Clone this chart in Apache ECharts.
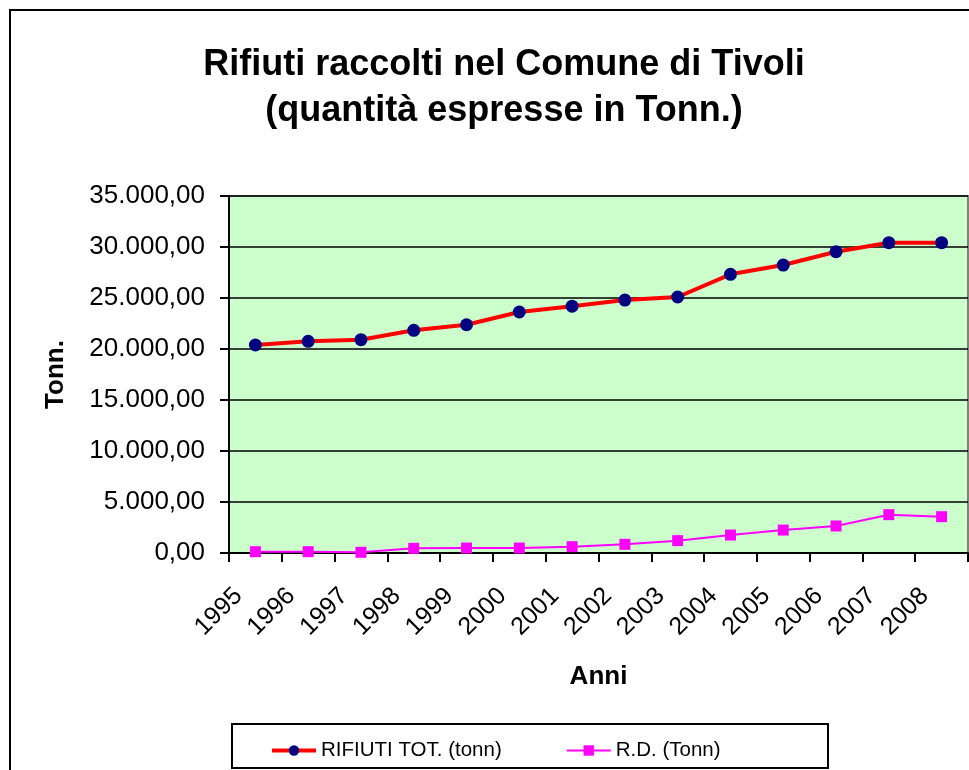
<!DOCTYPE html>
<html>
<head>
<meta charset="utf-8">
<script src="https://cdn.jsdelivr.net/npm/echarts@6/dist/echarts.min.js"></script>
<style>
  html, body { margin: 0; padding: 0; background: #fff; }
  #chart { width: 969px; height: 770px; }
</style>
</head>
<body>
<div id="chart"></div>
<script>
// anni e quantità (tonnellate)
const anni = ["1995", "1996", "1997", "1998", "1999", "2000", "2001",
  "2002", "2003", "2004", "2005", "2006", "2007", "2008"];
const rifiutiTot = [20390, 20750, 20910, 21830, 22380, 23630, 24200,
  24800, 25100, 27320, 28230, 29540, 30420, 30420];
const raccoltaDiff = [130, 130, 70, 460, 490, 490, 620,
  850, 1210, 1760, 2250, 2650, 3760, 3560];

const fmt = v => {
  const s = Math.round(v).toString().replace(/\B(?=(\d{3})+(?!\d))/g, ".");
  return s + ",00";
};

const chart = echarts.init(document.getElementById("chart"));
chart.setOption({
  animation: false,
  backgroundColor: "#ffffff",
  textStyle: { fontFamily: "Liberation Sans, Arial, sans-serif" },
  title: {
    text: "Rifiuti raccolti nel Comune di Tivoli\n(quantità espresse in Tonn.)",
    left: 499,
    textAlign: "center",
    top: 37,
    textStyle: { fontSize: 36, fontWeight: "bold", color: "#000", lineHeight: 46 }
  },
  graphic: [
    { type: "rect", shape: { x: 10, y: 10, width: 1000, height: 800 },
      style: { fill: null, stroke: "#000", lineWidth: 2 }, z: 100 },
    { type: "rect", shape: { x: 232, y: 724, width: 596, height: 44 },
      style: { fill: null, stroke: "#000", lineWidth: 2 }, z: 100 }
  ],
  legend: {
    left: 265,
    top: 735,
    itemWidth: 44,
    itemHeight: 13,
    itemGap: 64,
    textStyle: { fontSize: 20.5, color: "#000" },
    data: [
      { name: "RIFIUTI TOT. (tonn)", lineStyle: { width: 4 } },
      { name: "R.D. (Tonn)", lineStyle: { width: 2 } }
    ]
  },
  grid: {
    left: 229, right: 1, top: 196, bottom: 217,
    show: true, backgroundColor: "#CCFFCC",
    borderColor: "#808080", borderWidth: 2
  },
  xAxis: {
    type: "category",
    data: anni,
    boundaryGap: true,
    name: "Anni",
    nameLocation: "middle",
    nameGap: 111,
    nameTextStyle: { fontSize: 26, fontWeight: "bold", color: "#000" },
    axisLine: { lineStyle: { color: "#000", width: 2 } },
    axisTick: { show: true, length: 9, lineStyle: { color: "#000", width: 2 } },
    axisLabel: { rotate: 45, fontSize: 25, color: "#000", margin: 22,
      padding: [0, 24, 0, 0], interval: 0 }
  },
  yAxis: {
    type: "value",
    min: 0, max: 35000, interval: 5000,
    name: "Tonn.",
    nameLocation: "middle",
    nameGap: 160,
    nameTextStyle: { fontSize: 26, fontWeight: "bold", color: "#000" },
    axisLine: { show: true, lineStyle: { color: "#000", width: 2 } },
    axisTick: { show: true, length: 9, lineStyle: { color: "#000", width: 2 } },
    axisLabel: { fontSize: 26, color: "#000", margin: 24, formatter: fmt },
    splitLine: { lineStyle: { color: "#000", width: 1.5 } }
  },
  series: [
    {
      name: "RIFIUTI TOT. (tonn)",
      type: "line",
      data: rifiutiTot,
      symbol: "circle",
      symbolSize: 13,
      lineStyle: { color: "#FF0000", width: 4 },
      itemStyle: { color: "#000080" },
      z: 3
    },
    {
      name: "R.D. (Tonn)",
      type: "line",
      data: raccoltaDiff,
      symbol: "rect",
      symbolSize: 11,
      lineStyle: { color: "#FF00FF", width: 2 },
      itemStyle: { color: "#FF00FF" },
      z: 2
    }
  ]
});
</script>
</body>
</html>
